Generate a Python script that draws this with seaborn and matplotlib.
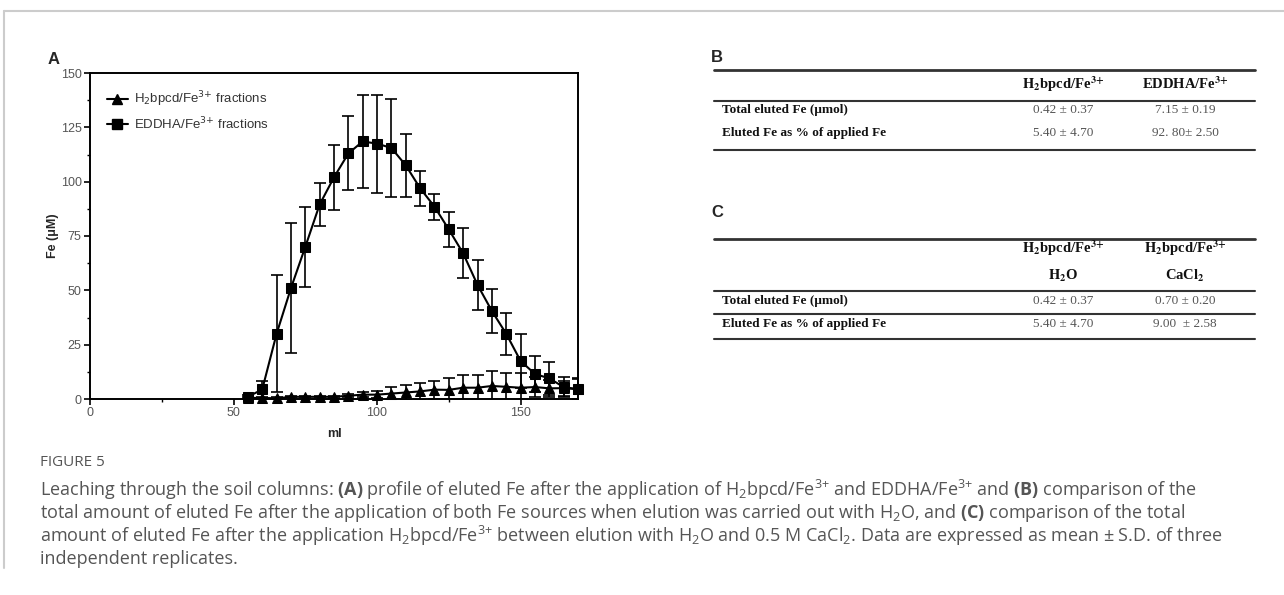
import matplotlib
matplotlib.use("Agg")
import matplotlib.pyplot as plt
from matplotlib.lines import Line2D
from matplotlib.ticker import MultipleLocator
import pandas as pd
import seaborn as sns

# ---- data ----
ml = [55, 60, 65, 70, 75, 80, 85, 90, 95, 100, 105, 110,
      115, 120, 125, 130, 135, 140, 145, 150, 155, 160, 165, 170]
h2bpcd_fe = [0.5, 0.5, 0.3, 1.0, 1.0, 1.0, 1.0, 1.5, 2.0, 2.0, 2.5, 3.0,
             3.5, 4.3, 4.2, 5.2, 5.2, 6.0, 5.6, 5.2, 5.5, 4.9, 5.0, 4.5]
h2bpcd_sd = [0.3, 0.5, 0.5, 0.3, 0.3, 0.3, 0.4, 0.8, 1.0, 1.5, 3.0, 3.6,
             3.9, 4.1, 5.6, 6.0, 6.0, 6.8, 6.5, 6.8, 4.8, 3.8, 3.4, 4.5]
eddha_fe = [1.0, 4.4, 30.0, 51.0, 70.0, 89.5, 102.0, 113.0, 118.5, 117.5, 115.5, 107.5,
            97.0, 88.5, 78.0, 67.0, 52.5, 40.5, 30.0, 17.5, 11.5, 9.5, 5.5, 4.5]
eddha_sd = [0.8, 4.0, 27.0, 30.0, 18.5, 10.0, 15.0, 17.0, 21.5, 22.5, 22.5, 14.5,
            8.0, 6.0, 8.0, 11.5, 11.5, 10.0, 9.8, 12.5, 8.5, 7.5, 4.5, 5.0]
series = ["H$_2$bpcd/Fe$^{3{+}}$ fractions", "EDDHA/Fe$^{3{+}}$ fractions"]

tab_b_cols = ["$\\mathbf{H_2}$bpcd/Fe$^{\\mathbf{3{+}}}$", "EDDHA/Fe$^{\\mathbf{3{+}}}$"]
tab_rows = ["Total eluted Fe (\u03bcmol)", "Eluted Fe as % of applied Fe"]
tab_b_vals = [["0.42 \u00b1 0.37", "7.15 \u00b1 0.19"],
              ["5.40 \u00b1 4.70", "92. 80\u00b1 2.50"]]
tab_c_cols = ["$\\mathbf{H_2}$bpcd/Fe$^{\\mathbf{3{+}}}$", "$\\mathbf{H_2}$bpcd/Fe$^{\\mathbf{3{+}}}$"]
tab_c_sub = ["$\\mathbf{H_2}$O", "CaCl$\\mathbf{_2}$"]
tab_c_vals = [["0.42 \u00b1 0.37", "0.70 \u00b1 0.20"],
              ["5.40 \u00b1 4.70", "9.00  \u00b1 2.58"]]

caption_head = "FIGURE 5"
caption = [
    "Leaching through the soil columns: $\\mathbf{(A)}$ profile of eluted Fe after the application of "
    "H$_2$bpcd/Fe$^{3{+}}$ and EDDHA/Fe$^{3{+}}$ and $\\mathbf{(B)}$ comparison of the",
    "total amount of eluted Fe after the application of both Fe sources when elution was carried out "
    "with H$_2$O, and $\\mathbf{(C)}$ comparison of the total",
    "amount of eluted Fe after the application H$_2$bpcd/Fe$^{3{+}}$ between elution with H$_2$O and "
    "0.5 M CaCl$_2$. Data are expressed as mean \u00b1 S.D. of three",
    "independent replicates.",
]

df = pd.DataFrame({
    "ml": ml * 2,
    "Fe": h2bpcd_fe + eddha_fe,
    "sd": h2bpcd_sd + eddha_sd,
    "series": [series[0]] * len(ml) + [series[1]] * len(ml),
})

sns.set_style("ticks")
plt.rcParams["font.family"] = ["Liberation Sans", "DejaVu Sans"]
plt.rcParams["mathtext.fontset"] = "custom"
plt.rcParams["mathtext.rm"] = "Open Sans"
plt.rcParams["mathtext.bf"] = "Open Sans:bold"
plt.rcParams["mathtext.it"] = "Open Sans:italic"

W, H = 1284, 595
fig = plt.figure(figsize=(W / 100, H / 100), dpi=100)


def fx(x):
    return x / W


def fy(y):
    return 1 - y / H


# frame of the figure box
fig.add_artist(Line2D([fx(4), fx(1284)], [fy(11), fy(11)], color="#cccccc", lw=1.5))
fig.add_artist(Line2D([fx(4), fx(4)], [fy(11), fy(568)], color="#cccccc", lw=1.5))

# ---- panel A ----
ax = fig.add_axes([fx(90), fy(399), fx(578) - fx(90), fy(73) - fy(399)])
sns.lineplot(data=df, x="ml", y="Fe", style="series",
             markers={series[0]: "^", series[1]: "s"}, dashes=False,
             color="black", lw=1.5, markersize=7.5, markeredgecolor="black",
             legend=False, ax=ax, clip_on=False, zorder=3)
for name, sub in df.groupby("series", sort=False):
    ax.errorbar(sub["ml"], sub["Fe"], yerr=sub["sd"], fmt="none", ecolor="black",
                elinewidth=1.2, capsize=4, capthick=1.2, zorder=2)

ax.set_xlim(0, 170)
ax.set_ylim(0, 150)
ax.xaxis.set_major_locator(MultipleLocator(50))
ax.xaxis.set_minor_locator(MultipleLocator(25))
ax.yaxis.set_major_locator(MultipleLocator(25))
ax.yaxis.set_minor_locator(MultipleLocator(12.5))
ax.tick_params(which="major", length=4, width=1.2, pad=2, colors="black",
               labelcolor="#555555", labelsize=9)
ax.tick_params(which="minor", length=2.5, width=1.0, colors="black")
for s in ax.spines.values():
    s.set_linewidth(1.4)
    s.set_color("black")
ax.set_xlabel("ml", fontsize=9, fontweight="bold", labelpad=6)
ax.set_ylabel("Fe (\u03bcM)", fontsize=9, fontweight="bold")
ax.yaxis.set_label_coords(-0.064, 0.5)

handles = [Line2D([], [], color="black", lw=1.5, marker="^", markersize=7),
           Line2D([], [], color="black", lw=1.5, marker="s", markersize=7)]
leg = ax.legend(handles, series, loc="upper left", bbox_to_anchor=(0.01, 0.985),
                frameon=False, fontsize=9.5, handlelength=1.6, handletextpad=0.5,
                labelspacing=0.45)
for t in leg.get_texts():
    t.set_color("#333333")
    t.set_math_fontfamily("dejavusans")

fig.text(fx(54), fy(59), "A", fontsize=12, fontweight="bold", ha="center", va="center")
fig.text(fx(717), fy(57), "B", fontsize=12, fontweight="bold", ha="center", va="center")
fig.text(fx(717), fy(212), "C", fontsize=12, fontweight="bold", ha="center", va="center")

# ---- tables B and C ----
serif = ["Liberation Serif", "DejaVu Serif"]
col_x = [1063, 1185]
x0, x1 = 714, 1255


def rule(y, lw=1.5):
    fig.add_artist(Line2D([fx(x0), fx(x1)], [fy(y), fy(y)], color="#333333", lw=lw))


def head(x, y, s):
    t = fig.text(fx(x), fy(y), s, family=serif, fontsize=10.5, fontweight="bold",
                 ha="center", va="center", color="#111111")
    t.set_math_fontfamily("stix")


def row(y, label, vals):
    fig.text(fx(722), fy(y), label, family=serif, fontsize=9.5, fontweight="bold",
             ha="left", va="center", color="#111111")
    for cx, v in zip(col_x, vals):
        fig.text(fx(cx), fy(y), v, family=serif, fontsize=9.5, ha="center", va="center",
                 color="#555555")


rule(70, 2.0)
for cx, s in zip(col_x, tab_b_cols):
    head(cx, 84, s)
rule(101)
row(110, tab_rows[0], tab_b_vals[0])
row(133, tab_rows[1], tab_b_vals[1])
rule(150)

rule(239, 2.0)
for cx, s in zip(col_x, tab_c_cols):
    head(cx, 248, s)
for cx, s in zip(col_x, tab_c_sub):
    head(cx, 276, s)
rule(291)
row(301, tab_rows[0], tab_c_vals[0])
rule(314)
row(324, tab_rows[1], tab_c_vals[1])
rule(339)

# ---- caption ----
cap_font = ["Open Sans", "DejaVu Sans"]
fig.text(fx(40), fy(462), caption_head, family=cap_font, fontsize=11, color="#555555",
         ha="left", va="center")
for i, line in enumerate(caption):
    fig.text(fx(40), fy(490 + 23 * i), line, family=cap_font, fontsize=13,
             color="#555555", ha="left", va="center")

fig.savefig("out.png", dpi=100)
